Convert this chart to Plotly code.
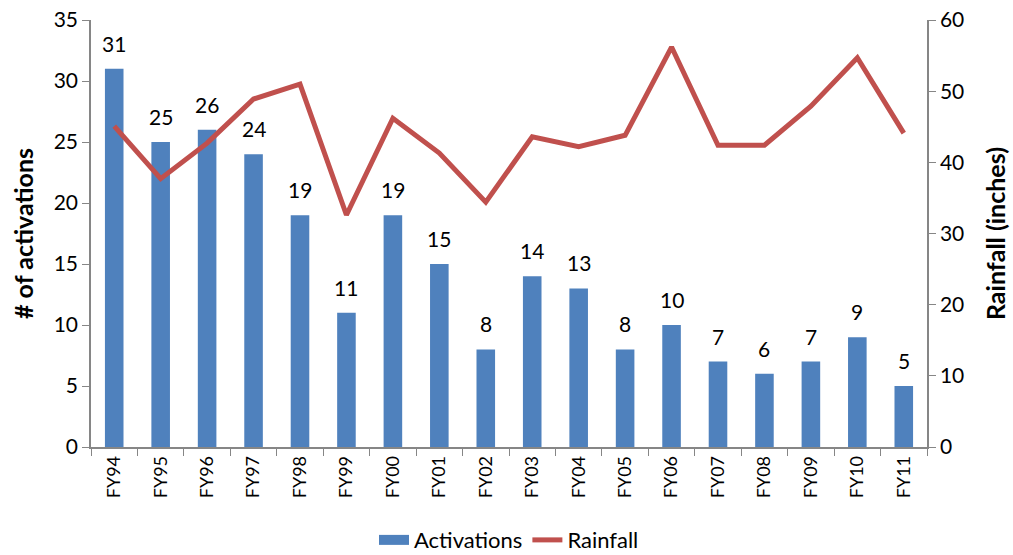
import plotly.graph_objects as go

categories = ["FY94", "FY95", "FY96", "FY97", "FY98", "FY99", "FY00", "FY01", "FY02",
              "FY03", "FY04", "FY05", "FY06", "FY07", "FY08", "FY09", "FY10", "FY11"]
activations = [31, 25, 26, 24, 19, 11, 19, 15, 8, 14, 13, 8, 10, 7, 6, 7, 9, 5]
rainfall = [45.1, 37.7, 42.7, 48.9, 51.0, 32.6, 46.2, 41.3, 34.4,
            43.6, 42.2, 43.8, 56.2, 42.4, 42.4, 47.9, 54.7, 44.1]

FONT = "Lato"
AXIS_COLOR = "#868686"
BAR_COLOR = "#4F81BD"
LINE_COLOR = "#C0504D"

fig = go.Figure()
fig.add_trace(go.Bar(
    x=categories, y=activations, name="Activations",
    marker=dict(color=BAR_COLOR, line=dict(width=0)),
    yaxis="y", showlegend=False,
))
# legend entry drawn as a wide block, like the reference legend swatch
fig.add_trace(go.Scatter(
    x=categories, y=[None] * len(categories), name="Activations", mode="lines",
    line=dict(color=BAR_COLOR, width=14), yaxis="y", hoverinfo="skip",
))
fig.add_trace(go.Scatter(
    x=categories, y=rainfall, name="Rainfall", mode="lines",
    line=dict(color=LINE_COLOR, width=5), yaxis="y2",
))

for c, v in zip(categories, activations):
    fig.add_annotation(x=c, y=v, xref="x", yref="y", text=str(v), showarrow=False,
                       yanchor="bottom", yshift=11,
                       font=dict(family=FONT, size=21, color="black"))

fig.update_layout(
    width=1013, height=555,
    margin=dict(l=91, r=86, t=20, b=108, autoexpand=False),
    paper_bgcolor="white", plot_bgcolor="white",
    font=dict(family=FONT, size=18, color="black"),
    bargap=0.6,
    showlegend=True,
    legend=dict(orientation="h", x=0.5, xanchor="center", y=-0.218, yanchor="middle",
                font=dict(family=FONT, size=22), traceorder="normal"),
    xaxis=dict(
        type="category", showgrid=False, showline=True, linecolor=AXIS_COLOR, linewidth=1.5,
        ticks="outside", tickson="boundaries", ticklen=7, tickcolor=AXIS_COLOR,
        tickangle=-90, tickfont=dict(family=FONT, size=18), automargin=False,
    ),
    yaxis=dict(
        range=[0, 35], dtick=5, showgrid=False, showline=True, linecolor=AXIS_COLOR,
        linewidth=1.5, ticks="outside", ticklen=7, tickcolor=AXIS_COLOR,
        tickfont=dict(family=FONT, size=21), automargin=False, ticklabeloverflow="allow",
        title=dict(text="<b># of activations</b>", font=dict(family=FONT, size=25), standoff=13),
        zeroline=False,
    ),
    yaxis2=dict(
        range=[0, 60], dtick=10, overlaying="y", side="right", showgrid=False,
        showline=True, linecolor=AXIS_COLOR, linewidth=1.5, ticks="outside", ticklen=7,
        tickcolor=AXIS_COLOR, tickfont=dict(family=FONT, size=21), automargin=False,
        ticklabeloverflow="allow",
        title=dict(text="<b>Rainfall (inches)</b>", font=dict(family=FONT, size=25), standoff=24),
        zeroline=False,
    ),
)

fig.write_html("out.html", config={"displayModeBar": False},
               post_script="document.body.style.margin='0';")
